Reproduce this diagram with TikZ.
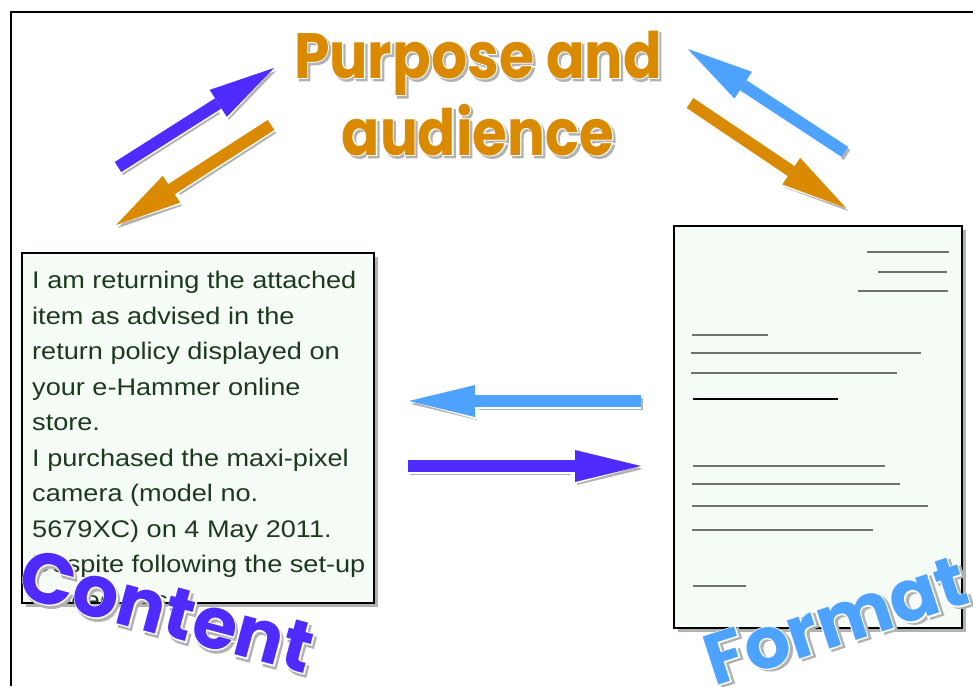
\documentclass[tikz,border=0pt]{standalone}
\usepackage{fontspec}
\setmainfont{Liberation Sans}
\newfontfamily\bodyfont{Liberation Sans}[FakeStretch=1.13]
\newfontfamily\bubble{Poppins Bold}
\newfontfamily\bubblehalo{Poppins Bold}[FakeBold=3]
\usetikzlibrary{arrows.meta}

\definecolor{violetarrow}{HTML}{4F2BFF}
\definecolor{ochre}{HTML}{DA8A00}
\definecolor{skyarrow}{HTML}{4DA3FF}
\definecolor{inkgreen}{HTML}{1C3A1C}
\definecolor{paper}{HTML}{F6FCF6}
\definecolor{ruleline}{HTML}{6E7370}

% rounded word with white rim and soft shadow
\newcommand\bubbletext[2]{%
  \makebox[0pt][l]{\raisebox{-2.5pt}{\hspace{2.5pt}\color{black!30}\bubblehalo #2}}%
  \makebox[0pt][l]{\color{white}\bubblehalo #2}%
  {\color{#1}\bubble #2}}

\tikzset{
  block/.style={line width=12pt, -{Triangle[length=66pt,width=32pt,line width=0pt]}},
  halo/.style={line width=15pt, white, -{Triangle[length=70pt,width=38pt,line width=0pt]}},
  sheet/.style={draw=black, line width=1.3pt, fill=paper},
  letter text/.style={inner sep=0pt, align=left, text=inkgreen,
    font=\bodyfont\fontsize{24}{35.5}\selectfont},
  title/.style={anchor=base, inner sep=0pt, font=\fontsize{64}{77}\selectfont},
  rule/.style={ruleline, line width=1.2pt}
}

% block arrow: colour, from, to
\newcommand\bigarrow[3]{%
  \draw[block, black!30, transform canvas={shift={(2pt,-3pt)}}] (#2) -- (#3);
  \draw[halo] (#2) -- (#3);
  \draw[block, #1] (#2) -- (#3);}

\begin{document}
\begin{tikzpicture}[x=1pt,y=-1pt]
\useasboundingbox (0,0) rectangle (973,686);
\fill[white] (0,0) rectangle (973,686);

% frame
\draw[line width=2pt] (11,686) -- (11,12) -- (973,12);

% title
\node[title] (title1) at (478,78) {\scalebox{0.89}[1]{\bubbletext{ochre}{Purpose and}}};
\node[title] (title2) at (478,155) {\scalebox{0.88}[1]{\bubbletext{ochre}{audience}}};

% arrow ends
\coordinate (upL1) at (118,167);  \coordinate (upL2) at (274,68);
\coordinate (dnL1) at (271,125);  \coordinate (dnL2) at (116,225);
\coordinate (upR1) at (845,152);  \coordinate (upR2) at (688,49);
\coordinate (dnR1) at (690,103);  \coordinate (dnR2) at (846,208);
\coordinate (back1) at (641,401); \coordinate (back2) at (409,401);
\coordinate (fwd1) at (408,466);  \coordinate (fwd2) at (641,466);

\bigarrow{violetarrow}{upL1}{upL2}
\bigarrow{ochre}{dnL1}{dnL2}
\bigarrow{skyarrow}{upR1}{upR2}
\bigarrow{ochre}{dnR1}{dnR2}
\bigarrow{skyarrow}{back1}{back2}
\bigarrow{violetarrow}{fwd1}{fwd2}

% content sheet
\coordinate (contentNW) at (22,253);
\coordinate (contentSE) at (374,603);
\fill[black!30] ([shift={(4pt,-4pt)}]contentNW) rectangle ([shift={(4pt,-4pt)}]contentSE);
\draw[sheet] (contentNW) rectangle (contentSE);
\begin{scope}
\clip (contentNW) rectangle (contentSE);
\node[letter text, anchor=north west] (body) at (32,271)
  {I am returning the attached\\
   item as advised in the\\
   return policy displayed on\\
   your e-Hammer online\\
   store.\\
   I purchased the maxi-pixel\\
   camera (model no.\\
   5679XC) on 4 May 2011.\\
   Despite following the set-up\\
   procedures,};
\end{scope}

% format sheet
\coordinate (formatNW) at (674,226);
\coordinate (formatSE) at (962,628);
\fill[black!30] ([shift={(4pt,-4pt)}]formatNW) rectangle ([shift={(4pt,-4pt)}]formatSE);
\draw[sheet] (formatNW) rectangle (formatSE);
% address block
\draw[rule] (867,252) -- (949,252);
\draw[rule] (878,272) -- (947,272);
\draw[rule] (858,291) -- (948,291);
% greeting and first paragraph
\draw[rule] (692,335) -- (768,335);
\draw[rule] (691,353) -- (921,353);
\draw[rule] (691,373) -- (897,373);
\draw[rule, black] (693,399) -- (838,399);
% second paragraph
\draw[rule] (693,466) -- (885,466);
\draw[rule] (692,484) -- (900,484);
\draw[rule] (692,506) -- (928,506);
\draw[rule] (692,530) -- (873,530);
% sign-off
\draw[rule] (693,586) -- (746,586);

% labels
\node[inner sep=0pt, rotate=-15, font=\fontsize{72}{80}\selectfont] (contentword) at (167,612)
  {\bubbletext{violetarrow}{Content}};
\node[inner sep=0pt, rotate=18, font=\fontsize{72}{80}\selectfont] (formatword) at (836,622)
  {\bubbletext{skyarrow}{Format}};
\end{tikzpicture}
\end{document}
